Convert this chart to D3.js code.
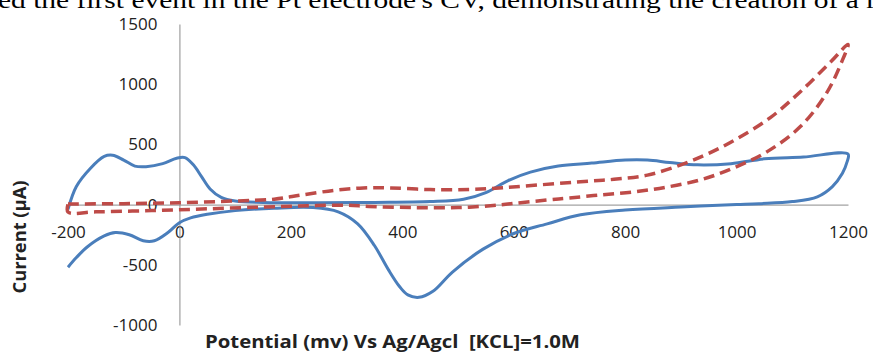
<!DOCTYPE html>
<html>
<head>
<meta charset="utf-8">
<script src="https://cdn.jsdelivr.net/npm/d3@7"></script>
<style>
  body { margin: 0; background: #fff; }
  svg { display: block; }
</style>
</head>
<body>
<div id="chart"></div>
<script>
// data (potential in mV, current in µA)
const xTicks = [-200, 0, 200, 400, 600, 800, 1000, 1200]
const yTicks = [-1000, -500, 0, 500, 1000, 1500]

const blueV = [-200, -185, -160, -135, -120, -100, -80, -60, -30, -5, 10, 25, 40, 55, 75, 100, 150, 250, 350, 450, 510, 550, 590, 630, 680, 740, 800, 840, 880, 930, 990, 1050, 1120, 1200,
  1198, 1190, 1172, 1145, 1100, 1040, 1000, 900, 800, 720, 660, 600, 545, 490, 455, 430, 410, 395, 375, 350, 320, 285, 240, 170, 100, 50, 20, 0, -20, -45, -65, -90, -115, -135, -165, -185, -200]
const blueI = [-40, 150, 300, 400, 410, 370, 320, 315, 340, 385, 390, 330, 230, 130, 60, 30, 18, 15, 18, 25, 45, 100, 200, 270, 320, 345, 370, 370, 350, 330, 340, 380, 395, 420,
  350, 260, 150, 65, 25, 8, 0, -20, -45, -85, -160, -240, -370, -560, -720, -770, -750, -680, -540, -340, -160, -60, -25, -30, -50, -80, -110, -150, -230, -300, -300, -250, -232, -260, -350, -440, -520]

const redV = [-200, -100, 0, 100, 170, 220, 280, 330, 380, 450, 520, 580, 650, 720, 780, 840, 900, 950, 1000, 1060, 1115, 1170, 1200,
  1190, 1162, 1115, 1055, 995, 935, 875, 815, 755, 700, 660, 600, 570, 500, 420, 340, 300, 230, 150, 50, -50, -150, -200, -200]
const redI = [5, 8, 15, 30, 45, 80, 120, 138, 138, 125, 125, 140, 165, 190, 210, 245, 330, 425, 545, 720, 940, 1190, 1330,
  1200, 930, 650, 440, 305, 205, 146, 105, 80, 55, 38, 10, -5, -25, -25, -15, -5, -10, -20, -35, -50, -60, -62, 5]

const width = 873
const height = 355

const svg = d3.select('#chart')
  .append('svg')
  .attr('width', width)
  .attr('height', height)

const x = d3.scaleLinear().domain([-200, 1200]).range([68, 848])
const y = d3.scaleLinear().domain([-1000, 1500]).range([325, 24])

// clipped paragraph line above the chart
svg.append('text')
  .attr('x', -2)
  .attr('y', 8)
  .attr('textLength', 878)
  .attr('lengthAdjust', 'spacingAndGlyphs')
  .style('font-family', '"Liberation Serif", "Times New Roman", serif')
  .style('font-size', '23px')
  .attr('fill', '#000')
  .text("ed the first event in the Pt electrode's CV, demonstrating the creation of a r")

const tickFont = g => g.selectAll('text')
  .style('font-family', '"Open Sans", sans-serif')
  .style('font-size', '17px')
  .attr('fill', '#222')

// x axis along current = 0
svg.append('g')
  .attr('transform', `translate(0,${y(0)})`)
  .call(d3.axisBottom(x).tickValues(xTicks).tickSize(0).tickSizeOuter(0).tickPadding(21).tickFormat(d => String(d)))
  .call(g => g.select('.domain').attr('stroke', '#8c8c8c'))
  .call(tickFont)

// y axis along potential = 0
svg.append('g')
  .attr('transform', `translate(${x(0)},0)`)
  .call(d3.axisLeft(y).tickValues(yTicks).tickSize(0).tickSizeOuter(0).tickPadding(22).tickFormat(d => String(d)))
  .call(g => g.select('.domain').attr('stroke', '#8c8c8c'))
  .call(tickFont)

const line = d3.line()
  .x(d => x(d[0]))
  .y(d => y(d[1]))
  .curve(d3.curveCatmullRom.alpha(0.5))

svg.append('path')
  .datum(d3.zip(blueV, blueI))
  .attr('d', line)
  .attr('fill', 'none')
  .attr('stroke', '#4a7ebb')
  .attr('stroke-width', 3)
  .attr('stroke-linejoin', 'round')

svg.append('path')
  .datum(d3.zip(redV, redI))
  .attr('d', line)
  .attr('fill', 'none')
  .attr('stroke', '#be4b48')
  .attr('stroke-width', 3.5)
  .attr('stroke-dasharray', '11,6')

// axis titles
svg.append('text')
  .attr('x', 205)
  .attr('y', 348)
  .attr('textLength', 375)
  .attr('lengthAdjust', 'spacingAndGlyphs')
  .style('font-family', '"Open Sans", sans-serif')
  .style('font-size', '18px')
  .style('font-weight', 'bold')
  .attr('fill', '#222')
  .style('white-space', 'pre')
  .text('Potential (mv) Vs Ag/Agcl  [KCL]=1.0M')

svg.append('text')
  .attr('transform', 'translate(26,237) rotate(-90)')
  .attr('text-anchor', 'middle')
  .attr('textLength', 113)
  .attr('lengthAdjust', 'spacingAndGlyphs')
  .style('font-family', '"Open Sans", sans-serif')
  .style('font-size', '17px')
  .style('font-weight', 'bold')
  .attr('fill', '#222')
  .text('Current (µA)')
</script>
</body>
</html>
